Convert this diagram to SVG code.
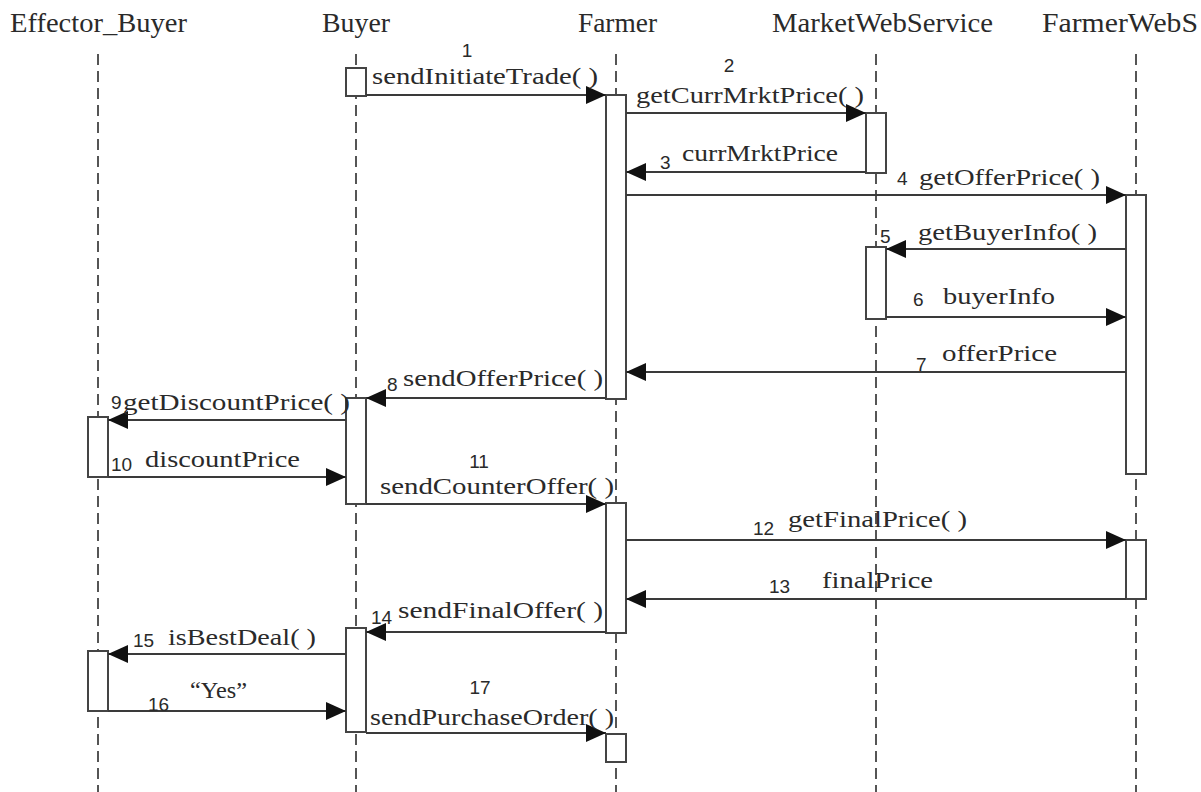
<svg xmlns="http://www.w3.org/2000/svg" width="1201" height="792" viewBox="0 0 1201 792">
  <defs>
    <style>
      .head { font-family: "Liberation Serif", "Times New Roman", serif; font-size: 27px; fill: #2a2a2a; }
      .lbl { font-family: "Liberation Serif", "Times New Roman", serif; font-size: 24px; fill: #2a2a2a; }
      .num { font-family: "Liberation Sans", Arial, sans-serif; font-size: 19px; fill: #2a2a2a; }
      .life { stroke: #555; stroke-width: 2; stroke-dasharray: 11 6; fill: none; }
      .act { fill: #fff; stroke: #444; stroke-width: 2; }
      .msg { stroke: #3a3a3a; stroke-width: 2; fill: none; marker-end: url(#head); }
    </style>
    <marker id="head" markerUnits="userSpaceOnUse" markerWidth="20" markerHeight="18" refX="20" refY="9" orient="auto">
      <path d="M0,0 L20,9 L0,18 Z" fill="#111"/>
    </marker>
  </defs>
  <rect width="1201" height="792" fill="#fff"/>

  <!-- lifelines with their activation bars -->
  <g id="effector_buyer">
    <text class="head" x="10" y="32" textLength="177" lengthAdjust="spacingAndGlyphs">Effector_Buyer</text>
    <line class="life" x1="98" y1="54" x2="98" y2="792"/>
    <rect class="act" x="88" y="417" width="20" height="60"/>
    <rect class="act" x="88" y="651" width="20" height="60"/>
  </g>
  <g id="buyer">
    <text class="head" x="322" y="32" textLength="68" lengthAdjust="spacingAndGlyphs">Buyer</text>
    <line class="life" x1="356" y1="54" x2="356" y2="792"/>
    <rect class="act" x="346" y="68" width="20" height="28"/>
    <rect class="act" x="346" y="398" width="20" height="106"/>
    <rect class="act" x="346" y="628" width="20" height="104"/>
  </g>
  <g id="farmer">
    <text class="head" x="578" y="32" textLength="79" lengthAdjust="spacingAndGlyphs">Farmer</text>
    <line class="life" x1="616" y1="54" x2="616" y2="792"/>
    <rect class="act" x="606" y="95" width="20" height="304"/>
    <rect class="act" x="606" y="503" width="20" height="130"/>
    <rect class="act" x="606" y="734" width="20" height="28"/>
  </g>
  <g id="market_web_service">
    <text class="head" x="772" y="32" textLength="221" lengthAdjust="spacingAndGlyphs">MarketWebService</text>
    <line class="life" x1="876" y1="54" x2="876" y2="792"/>
    <rect class="act" x="866" y="113" width="20" height="60"/>
    <rect class="act" x="866" y="247" width="20" height="72"/>
  </g>
  <g id="farmer_web_service">
    <text class="head" x="1042" y="32" textLength="156" lengthAdjust="spacingAndGlyphs">FarmerWebS</text>
    <line class="life" x1="1136" y1="54" x2="1136" y2="792"/>
    <rect class="act" x="1126" y="195" width="20" height="279"/>
    <rect class="act" x="1126" y="540" width="20" height="59"/>
  </g>

  <!-- messages -->
  <g id="connectors">
    <line class="msg" x1="366" y1="95" x2="606" y2="95"/>
    <line class="msg" x1="626" y1="113" x2="866" y2="113"/>
    <line class="msg" x1="866" y1="172" x2="626" y2="172"/>
    <line class="msg" x1="626" y1="195" x2="1126" y2="195"/>
    <line class="msg" x1="1126" y1="249" x2="886" y2="249"/>
    <line class="msg" x1="886" y1="317" x2="1126" y2="317"/>
    <line class="msg" x1="1126" y1="372" x2="626" y2="372"/>
    <line class="msg" x1="606" y1="398" x2="366" y2="398"/>
    <line class="msg" x1="346" y1="420" x2="108" y2="420"/>
    <line class="msg" x1="108" y1="477" x2="346" y2="477"/>
    <line class="msg" x1="366" y1="504" x2="606" y2="504"/>
    <line class="msg" x1="626" y1="540" x2="1126" y2="540"/>
    <line class="msg" x1="1126" y1="599" x2="626" y2="599"/>
    <line class="msg" x1="606" y1="632" x2="366" y2="632"/>
    <line class="msg" x1="346" y1="654" x2="108" y2="654"/>
    <line class="msg" x1="108" y1="711" x2="346" y2="711"/>
    <line class="msg" x1="366" y1="733" x2="606" y2="733"/>

    <text class="num" x="467" y="57" text-anchor="middle">1</text>
    <text class="lbl" x="372" y="84" textLength="226" lengthAdjust="spacingAndGlyphs">sendInitiateTrade( )</text>

    <text class="num" x="729" y="72" text-anchor="middle">2</text>
    <text class="lbl" x="636" y="103" textLength="228" lengthAdjust="spacingAndGlyphs">getCurrMrktPrice( )</text>

    <text class="num" x="660" y="169">3</text>
    <text class="lbl" x="682" y="161" textLength="156" lengthAdjust="spacingAndGlyphs">currMrktPrice</text>

    <text class="num" x="897" y="185">4</text>
    <text class="lbl" x="919" y="185" textLength="181" lengthAdjust="spacingAndGlyphs">getOfferPrice( )</text>

    <text class="num" x="880" y="243">5</text>
    <text class="lbl" x="918" y="240" textLength="179" lengthAdjust="spacingAndGlyphs">getBuyerInfo( )</text>

    <text class="num" x="913" y="306">6</text>
    <text class="lbl" x="943" y="304" textLength="112" lengthAdjust="spacingAndGlyphs">buyerInfo</text>

    <text class="num" x="916" y="371">7</text>
    <text class="lbl" x="942" y="361" textLength="115" lengthAdjust="spacingAndGlyphs">offerPrice</text>

    <text class="num" x="387" y="391">8</text>
    <text class="lbl" x="403" y="386" textLength="200" lengthAdjust="spacingAndGlyphs">sendOfferPrice( )</text>

    <text class="num" x="111" y="409">9</text>
    <text class="lbl" x="123" y="410" textLength="227" lengthAdjust="spacingAndGlyphs">getDiscountPrice( )</text>

    <text class="num" x="111" y="471">10</text>
    <text class="lbl" x="145" y="467" textLength="155" lengthAdjust="spacingAndGlyphs">discountPrice</text>

    <text class="num" x="479" y="468" text-anchor="middle">11</text>
    <text class="lbl" x="380" y="494" textLength="234" lengthAdjust="spacingAndGlyphs">sendCounterOffer( )</text>

    <text class="num" x="753" y="535">12</text>
    <text class="lbl" x="788" y="527" textLength="179" lengthAdjust="spacingAndGlyphs">getFinalPrice( )</text>

    <text class="num" x="769" y="593">13</text>
    <text class="lbl" x="822" y="588" textLength="111" lengthAdjust="spacingAndGlyphs">finalPrice</text>

    <text class="num" x="371" y="624">14</text>
    <text class="lbl" x="398" y="618" textLength="205" lengthAdjust="spacingAndGlyphs">sendFinalOffer( )</text>

    <text class="num" x="133" y="647">15</text>
    <text class="lbl" x="168" y="645" textLength="148" lengthAdjust="spacingAndGlyphs">isBestDeal( )</text>

    <text class="num" x="148" y="711">16</text>
    <text class="lbl" x="190" y="698" textLength="57" lengthAdjust="spacingAndGlyphs">“Yes”</text>

    <text class="num" x="480" y="694" text-anchor="middle">17</text>
    <text class="lbl" x="370" y="725" textLength="244" lengthAdjust="spacingAndGlyphs">sendPurchaseOrder( )</text>
  </g>
</svg>
